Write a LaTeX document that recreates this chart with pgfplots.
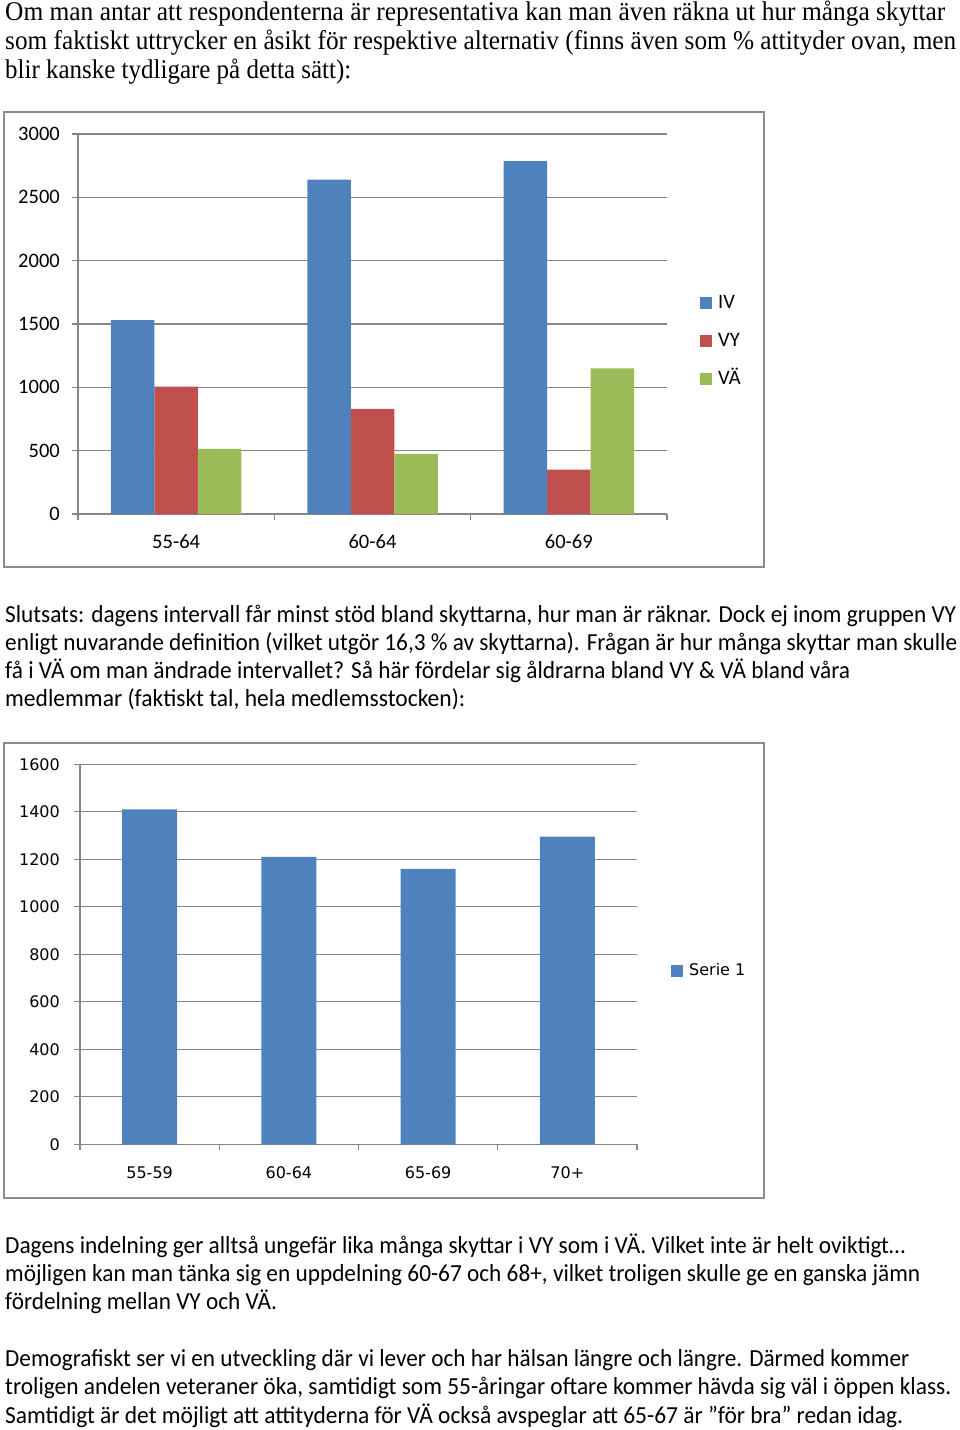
\documentclass[border=0pt]{standalone}
\usepackage{pgfplots}
\pgfplotsset{compat=1.18}
\usepackage{graphicx}
\usepackage{fontspec}
\setmainfont{Carlito}
\newfontfamily\tnr{Liberation Serif}
\newfontfamily\dvs{DejaVu Sans}

\definecolor{exblue}{HTML}{4F81BD}
\definecolor{exred}{HTML}{C0504D}
\definecolor{exgreen}{HTML}{9BBB59}
\definecolor{gridgray}{HTML}{868686}
\definecolor{framegray}{HTML}{8C8C8C}

% one line of running text: baseline y (px from top), width, text
\newcommand\txtline[3]{\node[anchor=base west,inner sep=0pt] at (5pt,-#1pt) {\resizebox{#2pt}{\height}{#3}};}

\begin{document}
\begin{tikzpicture}
\path[use as bounding box] (0,0) rectangle (960pt,-1430pt);

\begin{scope}[font=\tnr\fontsize{27}{30}\selectfont]
\txtline{20}{940}{Om man antar att respondenterna är representativa kan man även räkna ut hur många skyttar}
\txtline{49}{951}{som faktiskt uttrycker en åsikt för respektive alternativ (finns även som \% attityder ovan, men}
\txtline{78}{346}{blir kanske tydligare på detta sätt):}
\end{scope}

\begin{scope}[font=\fontsize{24.5}{28}\selectfont]
\txtline{622}{951}{Slutsats: dagens intervall får minst stöd bland skyttarna, hur man är räknar. Dock ej inom gruppen VY}
\txtline{650}{952}{enligt nuvarande definition (vilket utgör 16,3 \% av skyttarna). Frågan är hur många skyttar man skulle}
\txtline{678}{845}{få i VÄ om man ändrade intervallet? Så här fördelar sig åldrarna bland VY \& VÄ bland våra}
\txtline{706}{460}{medlemmar (faktiskt tal, hela medlemsstocken):}
\txtline{1253}{900}{Dagens indelning ger alltså ungefär lika många skyttar i VY som i VÄ. Vilket inte är helt oviktigt…}
\txtline{1281}{915}{möjligen kan man tänka sig en uppdelning 60-67 och 68+, vilket troligen skulle ge en ganska jämn}
\txtline{1309}{272}{fördelning mellan VY och VÄ.}
\txtline{1366}{904}{Demografiskt ser vi en utveckling där vi lever och har hälsan längre och längre. Därmed kommer}
\txtline{1394}{946}{troligen andelen veteraner öka, samtidigt som 55-åringar oftare kommer hävda sig väl i öppen klass.}
\txtline{1423}{898}{Samtidigt är det möjligt att attityderna för VÄ också avspeglar att 65-67 är ”för bra” redan idag.}
\end{scope}

% chart frames
\draw[framegray, line width=1.5pt] (4pt,-112pt) rectangle (764pt,-567pt);
\draw[framegray, line width=1.5pt] (4pt,-743pt) rectangle (764pt,-1198pt);

\pgfplotsset{
  excelbars/.style={
    anchor=south west, scale only axis,
    axis lines*=left,
    axis line style={gridgray, line width=1.3pt},
    ymajorgrids, grid style={gridgray, line width=1.3pt},
    tick align=outside,
    major tick length=6pt,
    tick style={gridgray, line width=1.3pt},
    xticklabels={},
    extra x tick style={major tick length=0pt, grid=none},
    xticklabel style={anchor=base, inner sep=0pt, yshift=-34pt},
    yticklabel style={anchor=base east, inner sep=0pt},
    /pgf/number format/set thousands separator={},
    /pgf/number format/assume math mode=true,
    legend cell align=left,
  },
  squarelegend/.style={
    legend image code/.code={\path[##1, draw=none] (0pt,-6pt) rectangle (12pt,6pt);},
  },
}

\begin{axis}[excelbars,
  at={(78pt,-514pt)}, width=589pt, height=380pt,
  ybar=0pt, bar width=43.5pt, squarelegend,
  xmin=-0.5, xmax=2.5, ymin=0, ymax=3000,
  ytick={0,500,...,3000},
  xtick={-0.5,0.5,1.5,2.5},
  extra x ticks={0,1,2},
  extra x tick labels={55-64,60-64,60-69},
  font=\fontsize{20.5}{24}\selectfont,
  yticklabel style={xshift=-12pt, yshift=-6.5pt},
  legend style={draw=none, fill=none, at={(1.0560,0.579)}, anchor=north west,
    inner sep=0pt, row sep=20pt,
    nodes={inner xsep=6pt, inner ysep=0pt, text height=14pt, text depth=4pt}},
]
\addplot[fill=exblue, draw=none] coordinates {(0,1530) (1,2640) (2,2785)};
\addplot[fill=exred, draw=none] coordinates {(0,1005) (1,830) (2,350)};
\addplot[fill=exgreen, draw=none] coordinates {(0,515) (1,475) (2,1150)};
\legend{IV,VY,VÄ}
\end{axis}

\begin{axis}[excelbars,
  at={(80pt,-1144.3pt)}, width=557pt, height=380pt,
  ybar=0pt, bar width=55pt, squarelegend,
  xmin=-0.5, xmax=3.5, ymin=0, ymax=1600,
  ytick={0,200,...,1600},
  xtick={-0.5,0.5,1.5,2.5,3.5},
  extra x ticks={0,1,2,3},
  extra x tick labels={55-59,60-64,65-69,70+},
  font=\dvs\fontsize{16}{19}\selectfont,
  yticklabel style={xshift=-14pt, yshift=-5.8pt},
  legend style={draw=none, fill=none, at={(1.061,0.456)}, anchor=west,
    inner sep=0pt,
    nodes={inner xsep=6pt, inner ysep=0pt, text height=12pt, text depth=3pt}},
]
\addplot[fill=exblue, draw=none] coordinates {(0,1410) (1,1210) (2,1160) (3,1295)};
\legend{Serie 1}
\end{axis}
\end{tikzpicture}
\end{document}
